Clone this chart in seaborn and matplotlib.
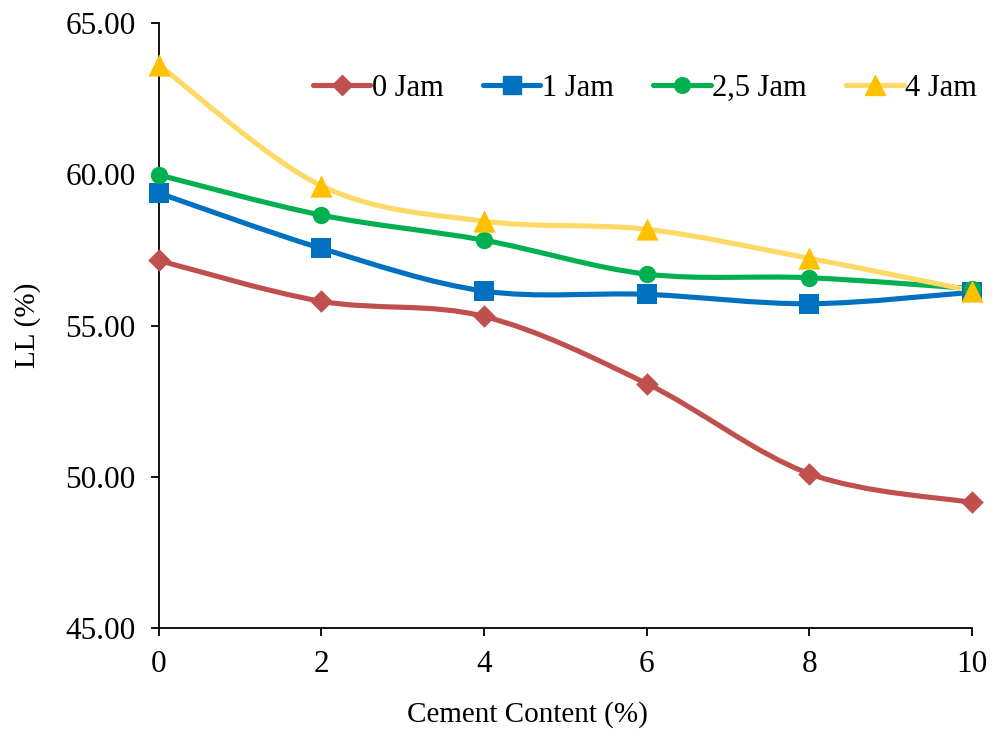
import numpy as np
import pandas as pd
import seaborn as sns
import matplotlib
matplotlib.use("Agg")
import matplotlib.pyplot as plt
from matplotlib.path import Path
from matplotlib.patches import PathPatch
from matplotlib.lines import Line2D

cement = [0, 2, 4, 6, 8, 10]
jam_0 = [57.15, 55.80, 55.30, 53.08, 50.10, 49.15]
jam_1 = [59.38, 57.55, 56.14, 56.03, 55.72, 56.10]
jam_25 = [59.98, 58.65, 57.82, 56.70, 56.58, 56.22]
jam_4 = [63.62, 59.62, 58.45, 58.18, 57.22, 56.15]
series_names = ["0 Jam", "1 Jam", "2,5 Jam", "4 Jam"]
yticks = [45, 50, 55, 60, 65]
xticks = [0, 2, 4, 6, 8, 10]

sns.set_theme(style="white")
plt.rcParams['font.family'] = ['Liberation Serif', 'DejaVu Serif']

fig = plt.figure(figsize=(9.92, 7.29), dpi=100)
ax = fig.add_axes([0.160, 0.1385, 0.820, 0.8299])

styles = [
    dict(line="#C0504D", mk="#C0504D", marker="D", ms=11.5),
    dict(line="#0070C0", mk="#0070C0", marker="s", ms=14),
    dict(line="#00B050", mk="#00B050", marker="o", ms=12.5),
    dict(line="#FFD966", mk="#FFC000", marker="^", ms=16),
]
all_vals = [jam_0, jam_1, jam_25, jam_4]

def smooth_path(xs, ys):
    pts = np.column_stack([xs, ys]).astype(float)
    verts = [tuple(pts[0])]
    codes = [Path.MOVETO]
    n = len(pts)
    for i in range(n - 1):
        p0 = pts[i - 1] if i > 0 else pts[i]
        p1 = pts[i]
        p2 = pts[i + 1]
        p3 = pts[i + 2] if i + 2 < n else pts[i + 1]
        c1 = p1 + (p2 - p0) / 6.0
        c2 = p2 - (p3 - p1) / 6.0
        verts += [tuple(c1), tuple(c2), tuple(p2)]
        codes += [Path.CURVE4] * 3
    return Path(verts, codes)

rows = []
for name, vals in zip(series_names, all_vals):
    for x, y in zip(cement, vals):
        rows.append(dict(series=name, cement=x, LL=y))
df = pd.DataFrame(rows)

handles = []
for name, vals, st in zip(series_names, all_vals, styles):
    patch = PathPatch(smooth_path(cement, vals), facecolor="none", edgecolor=st["line"],
                      lw=3.7, capstyle="round", joinstyle="round", zorder=2)
    ax.add_patch(patch)
    sub = df[df.series == name]
    sns.scatterplot(data=sub, x="cement", y="LL", ax=ax, marker=st["marker"],
                    color=st["mk"], s=st["ms"] ** 2, edgecolor=st["mk"], linewidth=0,
                    zorder=3, legend=False, clip_on=False)
    handles.append(Line2D([0], [0], color=st["line"], lw=3.7, marker=st["marker"],
                          markersize=st["ms"] * 0.9, markerfacecolor=st["mk"],
                          markeredgecolor=st["mk"], solid_capstyle="round"))

ax.set_xlim(0, 10)
ax.set_ylim(45, 65)
ax.set_xticks(xticks)
ax.set_xticklabels([str(t) for t in xticks])
ax.set_yticks(yticks)
ax.set_yticklabels([f"{t:.2f}" for t in yticks])
ax.tick_params(axis="both", which="both", direction="out", length=6, width=1.3,
               color="black", labelsize=22.5, labelcolor="black", bottom=True, left=True)
ax.tick_params(axis="x", pad=10)
ax.tick_params(axis="y", pad=10.5)
for side in ["top", "right"]:
    ax.spines[side].set_visible(False)
for side in ["left", "bottom"]:
    ax.spines[side].set_color("black")
    ax.spines[side].set_linewidth(1.3)

ax.set_xlabel("Cement Content (%)", fontsize=21, color="black", labelpad=16)
ax.xaxis.label.set_x(0.453)
ax.set_ylabel("LL (%)", fontsize=21, color="black", labelpad=17.5)

leg = ax.legend(handles, series_names, loc="center right", bbox_to_anchor=(1.006, 0.892),
                ncol=4, frameon=False, fontsize=22, handlelength=1.87,
                handletextpad=0.05, columnspacing=1.3, borderaxespad=0, borderpad=0)
for t in leg.get_texts():
    t.set_color("black")

fig.savefig("out.png", dpi=100)
